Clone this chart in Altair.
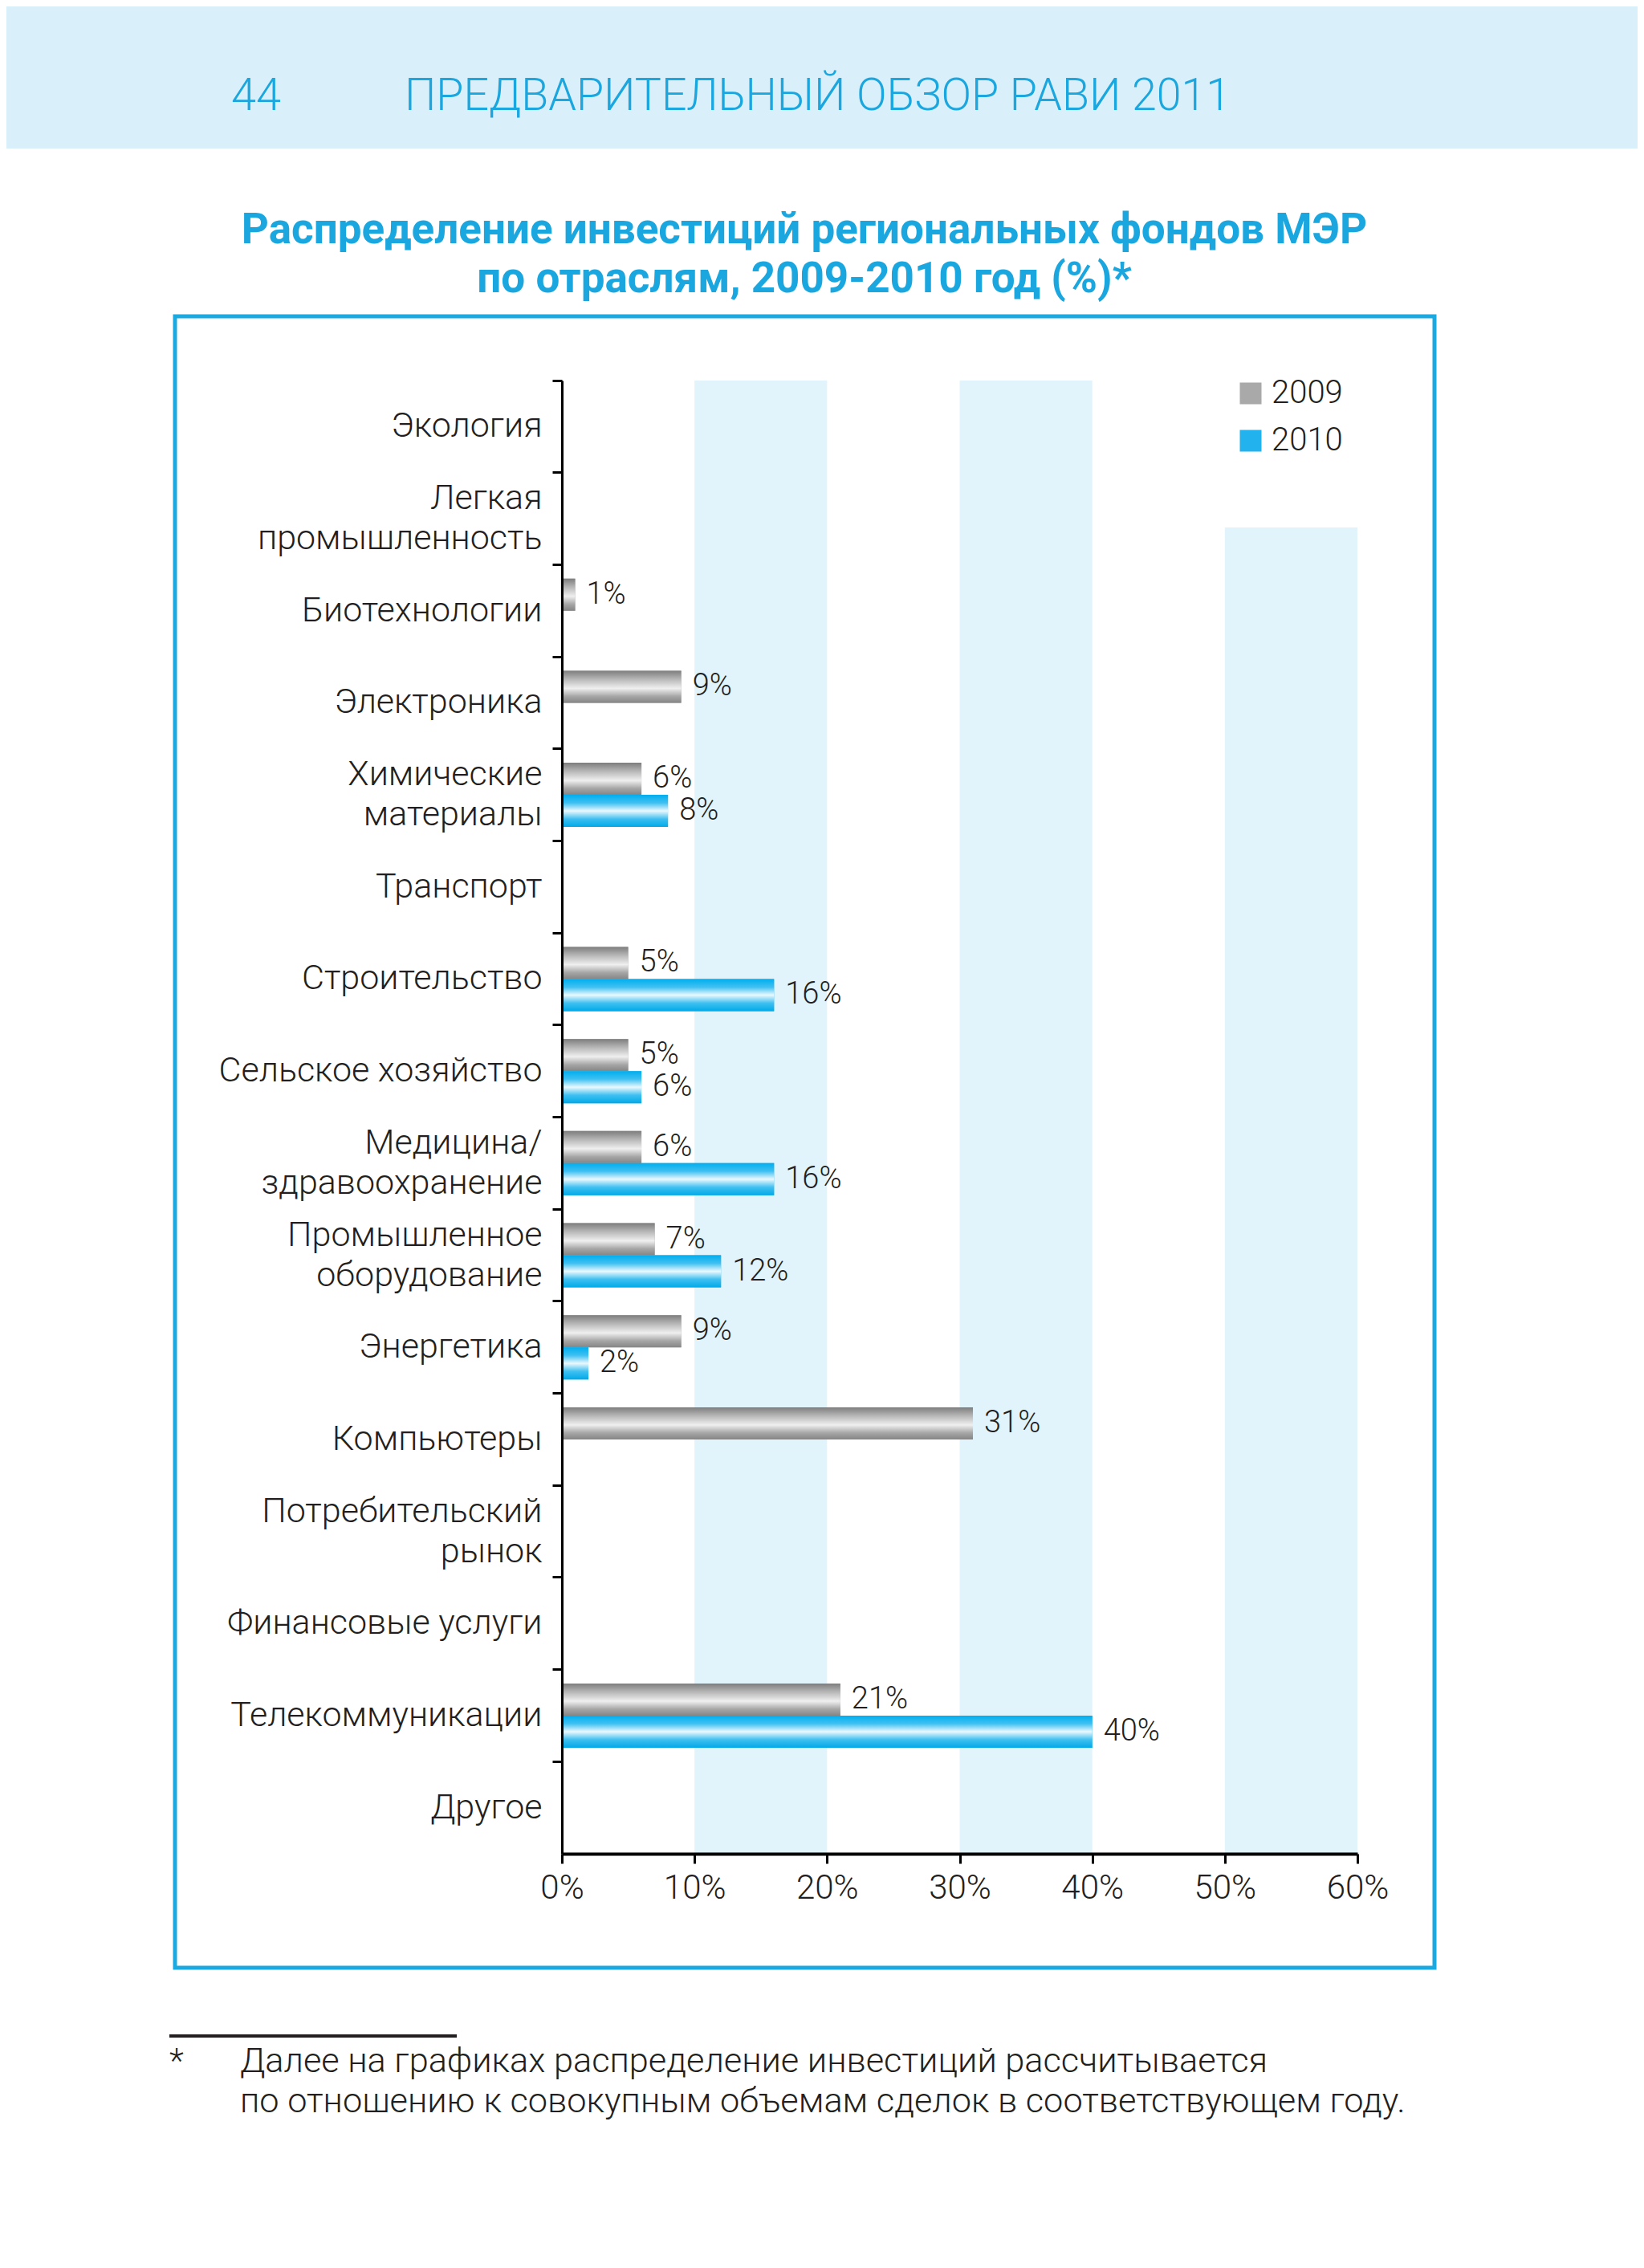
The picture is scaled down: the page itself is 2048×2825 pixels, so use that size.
import altair as alt
import pandas as pd

# ---------------- data ----------------
CATEGORIES = [
    "Экология",
    "Легкая|промышленность",
    "Биотехнологии",
    "Электроника",
    "Химические|материалы",
    "Транспорт",
    "Строительство",
    "Сельское хозяйство",
    "Медицина/|здравоохранение",
    "Промышленное|оборудование",
    "Энергетика",
    "Компьютеры",
    "Потребительский|рынок",
    "Финансовые услуги",
    "Телекоммуникации",
    "Другое",
]
YEARS = ["2009", "2010"]
V2009 = [None, None, 1, 9, 6, None, 5, 5, 6, 7, 9, 31, None, None, 21, None]
V2010 = [None, None, None, None, 8, None, 16, 6, 16, 12, 2, None, None, None, 40, None]
X_TICKS = [0, 10, 20, 30, 40, 50, 60]
STRIPES_START = [10, 30]
STRIPES_END = [20, 40]
STRIPE_SHORT_START = [50]
STRIPE_SHORT_END = [60]

HEADER_PAGE = "44"
HEADER_TITLE = "ПРЕДВАРИТЕЛЬНЫЙ ОБЗОР РАВИ 2011"
TITLE_LINES = [
    "Распределение инвестиций региональных фондов МЭР",
    "по отраслям, 2009-2010 год (%)*",
]
FOOTNOTE_MARK = "*"
FOOTNOTE_LINES = [
    "Далее на графиках распределение инвестиций рассчитывается",
    "по отношению к совокупным объемам сделок в соответствующем году.",
]

# ---------------- build tables ----------------
rows = []
for cat, a, b in zip(CATEGORIES, V2009, V2010):
    if a is not None:
        rows.append({"category": cat, "year": "2009", "value": a, "label": f"{a}%"})
    if b is not None:
        rows.append({"category": cat, "year": "2010", "value": b, "label": f"{b}%"})
bars = pd.DataFrame(rows)
stripes = pd.DataFrame({"start": STRIPES_START, "end": STRIPES_END})
stripe_short = pd.DataFrame({"start": STRIPE_SHORT_START, "end": STRIPE_SHORT_END})
one = pd.DataFrame({"k": [0]})

W, H = 991, 1835
FONT = "Roboto"
TXT = "#231f20"
BLUE = "#1aa6df"

GRAY_GRAD = {
    "gradient": "linear", "x1": 0, "y1": 0, "x2": 0, "y2": 1,
    "stops": [
        {"offset": 0, "color": "#7d7d7d"},
        {"offset": 0.25, "color": "#b4b4b4"},
        {"offset": 0.55, "color": "#efefef"},
        {"offset": 0.8, "color": "#a6a6a6"},
        {"offset": 1, "color": "#858585"},
    ],
}
BLUE_GRAD = {
    "gradient": "linear", "x1": 0, "y1": 0, "x2": 0, "y2": 1,
    "stops": [
        {"offset": 0, "color": "#00aeef"},
        {"offset": 0.25, "color": "#3fc0f1"},
        {"offset": 0.5, "color": "#eaf8fe"},
        {"offset": 0.75, "color": "#3fc0f1"},
        {"offset": 1, "color": "#00a9e8"},
    ],
}

x_enc = alt.X(
    "value:Q",
    scale=alt.Scale(domain=[0, 60], nice=False, zero=True),
    axis=alt.Axis(
        title=None, values=X_TICKS, labelExpr="datum.value + '%'",
        labelFont=FONT, labelFontSize=42, labelColor=TXT, labelPadding=10,
        labelFlush=False, labelFontWeight=300,
        tickSize=12, tickWidth=3, tickColor="#000", domainColor="#000",
        domainWidth=4, grid=False, zindex=2,
    ),
)
y_enc = alt.Y(
    "category:N",
    sort=CATEGORIES,
    scale=alt.Scale(domain=CATEGORIES, paddingInner=0, paddingOuter=0),
    axis=alt.Axis(
        title=None, labelExpr="split(datum.label, '|')",
        labelFont=FONT, labelFontSize=43, labelLineHeight=50, labelColor=TXT,
        labelFontWeight=300,
        labelPadding=13, labelLimit=700, labelAlign="right",
        labelOffset={"condition": {"test": "indexof(datum.value, '|') >= 0", "value": -25}, "value": 0},
        tickSize=12, tickWidth=3, tickColor="#000", bandPosition=0,
        domainColor="#000", domainWidth=3, grid=False, zindex=2,
    ),
)
yoff_enc = alt.YOffset(
    "year:N", scale=alt.Scale(domain=YEARS, paddingInner=0, paddingOuter=0.434)
)

# ---------------- decorations ----------------
header_band = alt.Chart(one).mark_rect(color="#d9eff9").encode(
    x=alt.value(-700), x2=alt.value(1400), y=alt.value(-490), y2=alt.value(-289)
)
frame = alt.Chart(one).mark_rect(
    fill="transparent", stroke="#1aa9e1", strokeWidth=5
).encode(x=alt.value(-482), x2=alt.value(1087), y=alt.value(-80), y2=alt.value(1977))

stripe_layer = alt.Chart(stripes).mark_rect(color="#e1f3fb").encode(
    x="start:Q", x2="end:Q", y=alt.value(0), y2=alt.value(H)
)
stripe_short_layer = alt.Chart(stripe_short).mark_rect(color="#e1f3fb").encode(
    x="start:Q", x2="end:Q", y=alt.value(183), y2=alt.value(H)
)

# ---------------- bars ----------------
base_bars = alt.Chart(bars).mark_bar().encode(
    x=x_enc,
    y=y_enc,
    yOffset=yoff_enc,
    color=alt.Color(
        "year:N",
        scale=alt.Scale(domain=YEARS, range=["#a9a9a9", "#22b3ee"]),
        legend=alt.Legend(
            title=None, orient="none", legendX=838, legendY=-4,
            symbolType="square", symbolSize=729, symbolStrokeWidth=0,
            labelFont=FONT, labelFontSize=40, labelColor=TXT, labelFontWeight=300,
            labelOffset=6, rowPadding=19, padding=0,
        ),
    ),
)
bars_2009 = alt.Chart(bars).transform_filter("datum.year == '2009'").mark_bar(
    fill=GRAY_GRAD
).encode(x=x_enc, y=y_enc, yOffset=yoff_enc)
bars_2010 = alt.Chart(bars).transform_filter("datum.year == '2010'").mark_bar(
    fill=BLUE_GRAD
).encode(x=x_enc, y=y_enc, yOffset=yoff_enc)

bar_labels = alt.Chart(bars).mark_text(
    align="left", baseline="middle", dx=14, font=FONT, fontSize=38, color=TXT,
    fontWeight=300,
).encode(x=x_enc, y=y_enc, yOffset=yoff_enc, text="label:N")

# ---------------- texts ----------------
def text_at(txt, x, y, size, color=TXT, weight="normal", align="left", baseline="alphabetic"):
    return alt.Chart(one).mark_text(
        font=FONT, fontSize=size, color=color, fontWeight=weight,
        align=align, baseline=baseline,
    ).encode(x=alt.value(x), y=alt.value(y), text=alt.value(txt))

header_num = text_at(HEADER_PAGE, -412, -337, 56, color=BLUE, weight=300)
header_title = text_at(HEADER_TITLE, -196, -337, 55.5, color=BLUE, weight=300)
title1 = text_at(TITLE_LINES[0], 302, -171, 53, color=BLUE, weight="bold", align="center")
title2 = text_at(TITLE_LINES[1], 302, -110, 53, color=BLUE, weight="bold", align="center")

foot_rule = alt.Chart(one).mark_rule(color=TXT, strokeWidth=4).encode(
    x=alt.value(-489), x2=alt.value(-131), y=alt.value(2062)
)
foot_star = text_at(FOOTNOTE_MARK, -489, 2107, 42, weight=300)
foot1 = text_at(FOOTNOTE_LINES[0], -401, 2107, 43.3, weight=300)
foot2 = text_at(FOOTNOTE_LINES[1], -401, 2157, 43.3, weight=300)

chart = alt.layer(
    header_band, frame, stripe_layer, stripe_short_layer,
    base_bars, bars_2009, bars_2010, bar_labels,
    header_num, header_title, title1, title2,
    foot_rule, foot_star, foot1, foot2,
).properties(
    width=W, height=H,
    autosize=alt.AutoSizeParams(type="none"),
    padding={"left": 692, "top": 466, "right": 349, "bottom": 399},
    view=alt.ViewBackground(stroke="transparent", strokeWidth=0),
).configure_view(strokeWidth=0, stroke="transparent").configure(background="white")

chart.save("out.html", embed_options={"renderer": "svg", "actions": False})
